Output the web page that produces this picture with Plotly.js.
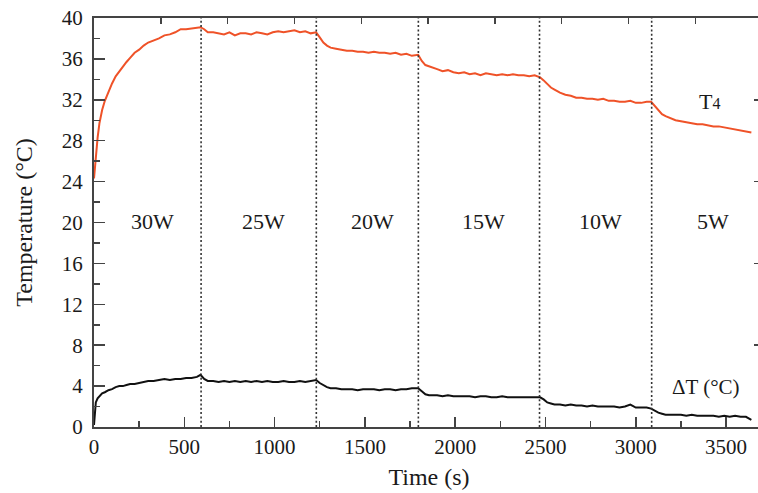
<!DOCTYPE html>
<html>
<head>
<meta charset="utf-8">
<script src="https://cdn.plot.ly/plotly-3.0.1.min.js"></script>
<style>
html, body { margin: 0; padding: 0; overflow: hidden; background: #fff; }
#chart { width: 764px; height: 493px; }
</style>
</head>
<body>
<div id="chart"></div>
<script>
// Time (s)
const time = [
  0,5,10,20,30,45,60,80,100,120,
  140,160,180,200,225,250,275,300,330,360,
  390,420,450,480,510,540,570,590,610,630,
  660,690,720,750,780,810,840,870,900,930,
  960,990,1020,1050,1080,1110,1140,1170,1200,1230,
  1250,1270,1290,1310,1340,1370,1400,1430,1460,1490,
  1520,1550,1580,1610,1640,1670,1700,1730,1760,1795,
  1815,1835,1855,1875,1900,1930,1960,1990,2020,2050,
  2080,2110,2140,2170,2200,2230,2260,2290,2320,2350,
  2380,2410,2440,2470,2490,2510,2530,2550,2580,2610,
  2640,2670,2700,2730,2760,2790,2820,2850,2880,2910,
  2940,2970,3000,3030,3060,3085,3105,3125,3145,3165,
  3190,3220,3250,3280,3310,3340,3370,3400,3430,3460,
  3490,3520,3550,3580,3610,3640
];
// T4 (°C)
const t4 = [
  24.3,25.5,26.6,28.3,29.7,31.0,31.9,32.8,33.6,34.3,
  34.8,35.3,35.7,36.1,36.6,36.9,37.3,37.6,37.8,38.0,
  38.3,38.4,38.6,38.9,38.9,39.0,39.1,39.1,38.9,38.6,
  38.6,38.5,38.4,38.6,38.3,38.5,38.5,38.4,38.6,38.5,
  38.4,38.6,38.7,38.6,38.7,38.8,38.6,38.7,38.5,38.6,
  38.1,37.6,37.3,37.1,37.0,36.9,36.8,36.8,36.7,36.7,
  36.6,36.7,36.6,36.6,36.5,36.6,36.4,36.5,36.3,36.4,
  35.8,35.4,35.3,35.2,35.0,34.8,34.9,34.7,34.6,34.7,
  34.5,34.6,34.4,34.6,34.5,34.4,34.5,34.4,34.5,34.4,
  34.4,34.3,34.4,34.2,33.9,33.5,33.2,33.0,32.7,32.5,
  32.4,32.2,32.2,32.1,32.1,32.0,32.1,31.9,31.9,31.8,
  31.8,31.9,31.7,31.7,31.8,31.8,31.4,30.9,30.6,30.4,
  30.2,30.0,29.9,29.8,29.7,29.6,29.6,29.5,29.4,29.4,
  29.3,29.2,29.1,29.0,28.9,28.8
];
// Delta T (°C)
const dT = [
  0.2,1.9,2.4,2.8,3.0,3.3,3.4,3.6,3.7,3.9,
  4.0,4.0,4.1,4.2,4.2,4.3,4.4,4.5,4.5,4.6,
  4.7,4.6,4.7,4.7,4.8,4.8,4.9,5.1,4.7,4.5,
  4.5,4.4,4.5,4.4,4.5,4.4,4.5,4.4,4.5,4.4,
  4.5,4.4,4.4,4.5,4.4,4.4,4.5,4.4,4.5,4.6,
  4.3,4.1,3.9,3.8,3.8,3.7,3.7,3.7,3.6,3.7,
  3.7,3.7,3.6,3.7,3.7,3.6,3.7,3.7,3.8,3.8,
  3.5,3.2,3.1,3.1,3.1,3.0,3.1,3.0,3.0,3.0,
  3.0,2.9,3.0,3.0,2.9,2.9,3.0,2.9,2.9,2.9,
  2.9,2.9,2.9,2.9,2.7,2.4,2.3,2.2,2.2,2.1,
  2.2,2.1,2.1,2.0,2.1,2.0,2.0,2.0,2.0,1.9,
  2.0,2.2,1.9,1.9,1.9,1.8,1.6,1.4,1.3,1.2,
  1.2,1.2,1.2,1.1,1.2,1.1,1.1,1.1,1.1,1.0,
  1.1,1.0,1.1,1.0,1.0,0.7
];
// Power step change times (s) and power level labels
const powerSteps = [593, 1231, 1796, 2467, 3088];
const powerLabels = ['30W', '25W', '20W', '15W', '10W', '5W'];
// Axis tick settings
const xTickStep = 500;
const yTickStep = 4;

const xMax = 3710;
const FONT = 'Liberation Serif, Times New Roman, serif';
const TXT = '#1a1a1a';
const AX = '#444';

const traces = [
  { x: time, y: t4, type: 'scatter', mode: 'lines', name: 'T4',
    line: { color: '#ef5228', width: 2 }, hoverinfo: 'x+y' },
  { x: time, y: dT, type: 'scatter', mode: 'lines', name: 'ΔT',
    line: { color: '#111', width: 2 }, hoverinfo: 'x+y' },
  // helper traces to register the top and right tick-only axes
  { x: [time[0]], y: [t4[0]], xaxis: 'x2', yaxis: 'y', mode: 'markers',
    marker: { opacity: 0 }, hoverinfo: 'skip', showlegend: false },
  { x: [time[0]], y: [t4[0]], xaxis: 'x', yaxis: 'y2', mode: 'markers',
    marker: { opacity: 0 }, hoverinfo: 'skip', showlegend: false }
];

const bounds = [0].concat(powerSteps, [xMax]);
const annotations = powerLabels.map((lab, i) => ({
  x: (bounds[i] + bounds[i + 1]) / 2, y: 20.1, xref: 'x', yref: 'y',
  text: lab, showarrow: false, xshift: 5,
  font: { family: FONT, size: 22, color: TXT }
}));
annotations.push({
  x: 3409, y: 31.8, xref: 'x', yref: 'y', showarrow: false,
  text: "T<span style='font-size:16px'>4</span>",
  font: { family: FONT, size: 22, color: TXT }
});
annotations.push({
  x: 3387, y: 3.9, xref: 'x', yref: 'y', showarrow: false,
  text: 'ΔT (°C)',
  font: { family: FONT, size: 21, color: TXT }
});

const shapes = powerSteps.map(t => ({
  type: 'line', xref: 'x', yref: 'paper', x0: t, x1: t, y0: 0, y1: 1,
  line: { color: '#333', width: 1.6, dash: '2px,2.3px' }
}));

const layout = {
  width: 764, height: 493,
  margin: { l: 94, r: 0, t: 18, b: 66 },
  paper_bgcolor: '#fff', plot_bgcolor: '#fff',
  showlegend: false,
  font: { family: FONT, color: TXT },
  xaxis: {
    range: [0, xMax], dtick: xTickStep, tick0: 0,
    ticks: 'inside', ticklen: 10, tickwidth: 1.5, tickcolor: AX,
    minor: { dtick: xTickStep / 2, ticks: 'inside', ticklen: 6, tickwidth: 1.5, tickcolor: AX, showgrid: false },
    showline: true, linecolor: AX, linewidth: 2, mirror: true,
    showgrid: false, zeroline: false,
    tickfont: { family: FONT, size: 21, color: TXT },
    ticklabelstandoff: 0,
    title: { text: 'Time (s)', font: { family: FONT, size: 24, color: TXT }, standoff: 10 }
  },
  xaxis2: {
    overlaying: 'x', side: 'top', range: [0, xMax], dtick: 370, tick0: 0,
    ticks: 'inside', ticklen: 6, tickwidth: 1.5, tickcolor: AX,
    showticklabels: false, showline: false, showgrid: false, zeroline: false
  },
  yaxis: {
    range: [0, 40], dtick: yTickStep, tick0: 0,
    ticks: 'inside', ticklen: 11, tickwidth: 1.5, tickcolor: AX,
    minor: { dtick: yTickStep / 2, ticks: 'inside', ticklen: 6, tickwidth: 1.5, tickcolor: AX, showgrid: false },
    showline: true, linecolor: AX, linewidth: 2, mirror: true,
    showgrid: false, zeroline: false,
    tickfont: { family: FONT, size: 21, color: TXT },
    ticklabelstandoff: 5,
    title: { text: 'Temperature (°C)', font: { family: FONT, size: 24, color: TXT }, standoff: 22 }
  },
  yaxis2: {
    overlaying: 'y', side: 'right', range: [0, 40], dtick: 8, tick0: 0,
    ticks: 'inside', ticklen: 10, tickwidth: 1.5, tickcolor: AX,
    minor: { dtick: 4, ticks: 'inside', ticklen: 6, tickwidth: 1.5, tickcolor: AX, showgrid: false },
    showticklabels: false, showline: false, showgrid: false, zeroline: false
  },
  annotations: annotations,
  shapes: shapes
};

Plotly.newPlot('chart', traces, layout, { displayModeBar: false, staticPlot: true });
</script>
</body>
</html>
